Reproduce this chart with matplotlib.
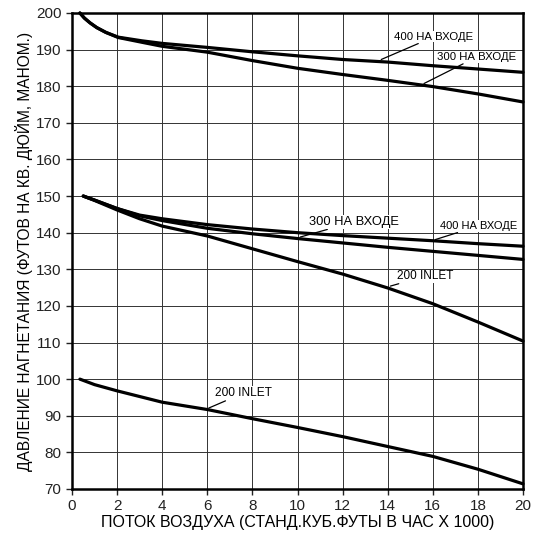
import matplotlib
matplotlib.use('Agg')
import matplotlib.pyplot as plt

plt.rcParams['font.family'] = ['Liberation Sans', 'DejaVu Sans']

# upper group (top of chart)
x_top = [0.35, 0.55, 0.8, 1.1, 1.5, 2.05, 3.1, 4, 6, 8, 10, 12, 14, 16, 18, 20]
y_top_400 = [200, 198.6, 197.3, 196.0, 194.7, 193.4, 192.4, 191.7, 190.6, 189.4, 188.3, 187.3, 186.6, 185.6, 184.7, 183.8]
y_top_300 = [200, 198.6, 197.3, 196.0, 194.7, 193.3, 192.0, 190.9, 189.3, 187.0, 184.9, 183.2, 181.6, 179.9, 177.9, 175.7]

# middle group
x_mid = [0.5, 1, 2, 3, 4, 6, 8, 10, 12, 14, 16, 18, 20]
y_mid_400 = [150, 148.9, 146.6, 144.8, 143.8, 142.2, 141.0, 140.0, 139.2, 138.5, 137.8, 137.0, 136.3]
y_mid_300 = [150, 148.9, 146.6, 144.6, 143.3, 141.2, 139.7, 138.4, 137.2, 136.0, 134.9, 133.8, 132.7]
y_mid_200 = [150, 148.8, 146.2, 143.8, 141.8, 139.1, 135.6, 132.1, 128.7, 124.9, 120.6, 115.6, 110.4]

# lower group
x_low = [0.35, 1, 2, 4, 6, 8, 10, 12, 14, 16, 18, 20]
y_low_200 = [100, 98.5, 96.8, 93.7, 91.7, 89.2, 86.8, 84.3, 81.6, 78.9, 75.4, 71.4]

fig = plt.figure(figsize=(5.35, 5.39), dpi=100)
ax = fig.add_axes([0.1346, 0.0928, 0.843, 0.8831])

lw = 2.3
for xs, ys in [(x_top, y_top_400), (x_top, y_top_300), (x_mid, y_mid_400),
               (x_mid, y_mid_300), (x_mid, y_mid_200), (x_low, y_low_200)]:
    ax.plot(xs, ys, color='black', lw=lw, solid_capstyle='round',
            solid_joinstyle='round', clip_on=False, zorder=3)

ax.set_xlim(0, 20)
ax.set_ylim(70, 200)
ax.set_xticks(range(0, 21, 2))
ax.set_yticks(range(70, 201, 10))
ax.grid(True, color='#333333', lw=0.7)
for s in ax.spines.values():
    s.set_linewidth(1.8)
ax.tick_params(direction='out', length=4, width=1, labelsize=11, colors='#222222')

ax.set_xlabel('ПОТОК ВОЗДУХА (СТАНД.КУБ.ФУТЫ В ЧАС X 1000)', fontsize=11.5, labelpad=1)
ax.set_ylabel('ДАВЛЕНИЕ НАГНЕТАНИЯ (ФУТОВ НА КВ. ДЮЙМ, МАНОМ.)', fontsize=11.2, labelpad=2)

kw = dict(va='center', ha='left', zorder=5,
          bbox=dict(facecolor='white', edgecolor='none', pad=0.5))
ak = dict(arrowstyle='-', color='black', lw=0.9)

ax.annotate('400 НА ВХОДЕ', xy=(13.6, 187.0), xytext=(14.3, 193.5), arrowprops=ak, fontsize=8.2, **kw)
ax.annotate('300 НА ВХОДЕ', xy=(15.5, 180.4), xytext=(16.2, 188.0), arrowprops=ak, fontsize=8.2, **kw)
ax.annotate('300 НА ВХОДЕ', xy=(10.0, 138.6), xytext=(10.5, 142.9), arrowprops=ak, fontsize=9.3, **kw)
ax.annotate('400 НА ВХОДЕ', xy=(16.0, 137.9), xytext=(16.3, 141.8), arrowprops=ak, fontsize=8.0, **kw)
ax.annotate('200 INLET', xy=(14.0, 125.2), xytext=(14.4, 128.1), arrowprops=ak, fontsize=8.5, **kw)
ax.annotate('200 INLET', xy=(5.95, 91.8), xytext=(6.35, 96.2), arrowprops=ak, fontsize=8.6, **kw)

fig.savefig('out.png', dpi=100)
